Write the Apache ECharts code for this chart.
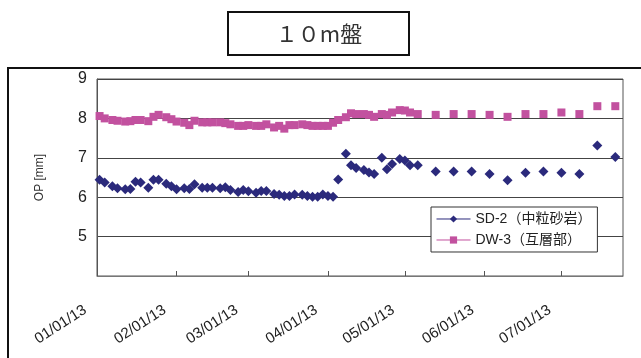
<!DOCTYPE html>
<html><head><meta charset="utf-8">
<script src="https://cdn.jsdelivr.net/npm/echarts@6/dist/echarts.min.js"></script>
<style>html,body{margin:0;padding:0;background:#fff;}#c{width:641px;height:358px;}</style>
</head><body><div id="c"></div>
<script>
const titleText = '１０m盤';
const yAxisName = 'OP [mm]';
const seriesNames = ['SD-2（中粒砂岩）', 'DW-3（互層部）'];
const dates = [
 '2013-01-02','2013-01-04','2013-01-07','2013-01-09','2013-01-12','2013-01-14','2013-01-16','2013-01-18','2013-01-21','2013-01-23',
 '2013-01-25','2013-01-28','2013-01-30','2013-02-01','2013-02-04','2013-02-06','2013-02-08','2013-02-11','2013-02-13','2013-02-15',
 '2013-02-18','2013-02-20','2013-02-22','2013-02-25','2013-02-27','2013-03-01','2013-03-04','2013-03-06','2013-03-08','2013-03-11',
 '2013-03-13','2013-03-15','2013-03-17','2013-03-19','2013-03-22','2013-03-24','2013-03-26','2013-03-28','2013-03-30','2013-04-01',
 '2013-04-03','2013-04-05','2013-04-08','2013-04-10','2013-04-12','2013-04-15','2013-04-17','2013-04-19','2013-04-22','2013-04-24',
 '2013-04-26','2013-04-29','2013-05-01','2013-05-03','2013-05-06','2013-05-13','2013-05-20','2013-05-27','2013-06-03','2013-06-10',
 '2013-06-17','2013-06-24','2013-07-01','2013-07-08','2013-07-15','2013-07-22'
];
const sd2 = [
 6.44,6.37,6.28,6.23,6.20,6.21,6.39,6.37,6.24,6.44,
 6.44,6.34,6.28,6.20,6.23,6.21,6.33,6.24,6.24,6.24,
 6.23,6.25,6.18,6.13,6.18,6.15,6.11,6.16,6.16,6.08,
 6.06,6.03,6.03,6.07,6.06,6.03,6.01,6.01,6.07,6.03,
 6.01,6.45,7.10,6.81,6.74,6.69,6.63,6.59,7.00,6.71,
 6.84,6.97,6.93,6.81,6.81,6.65,6.65,6.65,6.59,6.43,
 6.62,6.65,6.62,6.59,7.31,7.02
];
const dw3 = [
 8.06,8.00,7.96,7.94,7.92,7.93,7.96,7.96,7.93,8.04,
 8.09,8.03,7.98,7.92,7.89,7.83,7.94,7.90,7.90,7.90,
 7.90,7.88,7.85,7.81,7.81,7.83,7.81,7.81,7.85,7.77,
 7.81,7.74,7.83,7.83,7.85,7.83,7.81,7.81,7.81,7.81,
 7.89,7.96,8.03,8.13,8.11,8.11,8.09,8.04,8.11,8.09,
 8.15,8.21,8.20,8.15,8.11,8.09,8.11,8.11,8.09,8.04,
 8.11,8.11,8.15,8.11,8.31,8.31
];
const xMin = '2013-01-01', xMax = '2013-07-25';
const yMin = 4, yMax = 9, yStep = 1;

const navy = '#2b2a7c', mag = '#c2519f';
const FONT = '"Liberation Sans", Arial, "Noto Sans CJK JP", sans-serif';
const chart = echarts.init(document.getElementById('c'), null, {renderer: 'canvas'});
chart.setOption({
  animation: false,
  backgroundColor: '#fff',
  textStyle: {fontFamily: FONT},
  graphic: [
    {type: 'rect', shape: {x: 8, y: 68, width: 660, height: 320}, style: {fill: 'none', stroke: '#111', lineWidth: 2}, z: 0, silent: true},
    {type: 'rect', shape: {x: 228, y: 12, width: 181, height: 43}, style: {fill: '#fff', stroke: '#111', lineWidth: 2}, z: 0, silent: true},
    {type: 'text', x: 319, y: 34, style: {text: titleText, font: '22px "Noto Sans CJK JP", sans-serif', fill: '#333', textAlign: 'center', textVerticalAlign: 'middle'}, z: 1, silent: true}
  ],
  grid: {left: 97, top: 79, right: 18, bottom: 82, show: true, borderColor: '#555', borderWidth: 1, backgroundColor: 'transparent'},
  legend: {
    orient: 'vertical', left: 431, top: 207, backgroundColor: '#fff', borderColor: '#333', borderWidth: 1,
    padding: [5, 6, 5, 5], itemGap: 7, itemWidth: 34, itemHeight: 9,
    textStyle: {fontSize: 14, color: '#222', fontFamily: FONT},
    data: [
      {name: seriesNames[0], lineStyle: {color: navy, width: 1, opacity: 1}},
      {name: seriesNames[1], lineStyle: {color: mag, width: 1, opacity: 1}}
    ]
  },
  xAxis: {
    type: 'time', min: xMin, max: xMax,
    minInterval: 28 * 86400000, maxInterval: 31 * 86400000,
    axisLine: {lineStyle: {color: '#777', width: 1}},
    axisTick: {show: true, inside: true, length: 5, lineStyle: {color: '#555'}},
    splitLine: {show: false},
    axisLabel: {
      formatter: '{MM}/{dd}/{yy}', rotate: 33, margin: 25, padding: [0, 14, 0, 0],
      fontSize: 15, color: '#222', showMaxLabel: false, hideOverlap: false
    }
  },
  yAxis: {
    type: 'value', min: yMin, max: yMax, interval: yStep,
    name: yAxisName, nameLocation: 'middle', nameGap: 51, nameTextStyle: {fontSize: 12, color: '#333'},
    axisLine: {show: true, lineStyle: {color: '#555'}},
    axisTick: {show: false},
    axisLabel: {fontSize: 16, color: '#222', margin: 10, formatter: v => v === yMin ? '' : String(v)},
    splitLine: {show: true, lineStyle: {color: '#444', width: 1}}
  },
  series: [
    {name: seriesNames[0], type: 'line', data: dates.map((d, i) => [d, sd2[i]]),
     symbol: 'diamond', symbolSize: [10, 10], showAllSymbol: true, itemStyle: {color: navy},
     lineStyle: {opacity: 0}, z: 3},
    {name: seriesNames[1], type: 'line', data: dates.map((d, i) => [d, dw3[i]]),
     symbol: 'rect', symbolSize: [8, 8], showAllSymbol: true, itemStyle: {color: mag},
     lineStyle: {opacity: 0}, z: 2}
  ]
});
</script></body></html>
